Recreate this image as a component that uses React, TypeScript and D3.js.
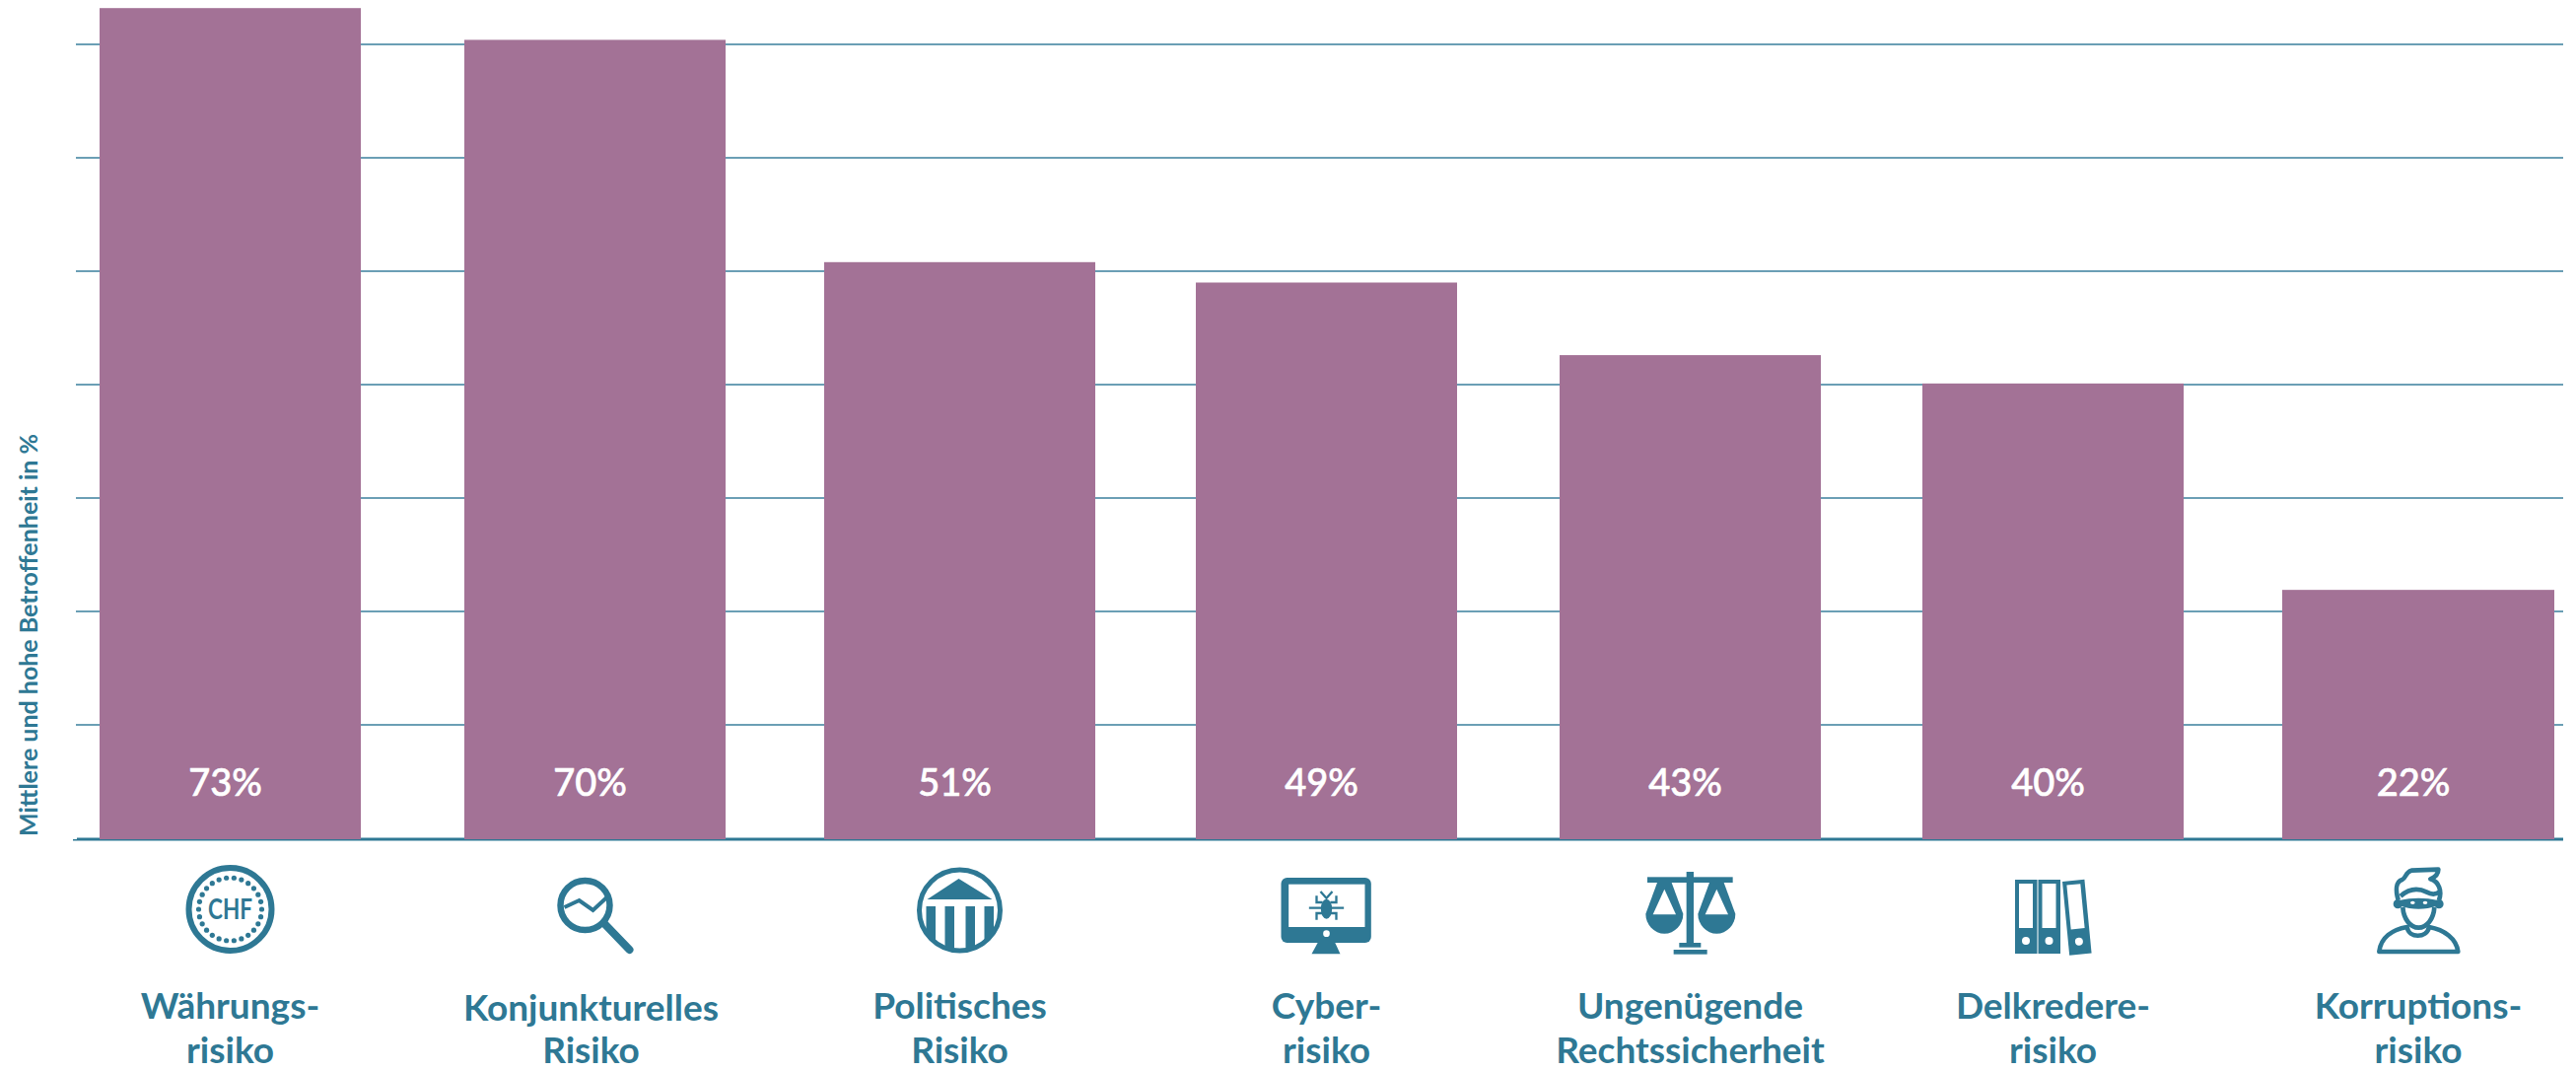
import React from "react";
import * as d3 from "d3";

// Share of firms, as printed in the bars
const printedShares = [73, 70, 51, 49, 43, 40, 22];
// Bar heights
const barShares = [73.2, 70.4, 50.8, 49, 42.6, 40.1, 21.9];
const riskKeys = ["chf", "konjunktur", "politik", "cyber", "recht", "delkredere", "korruption"];
const riskLines = [
  ["Währungs-", "risiko"],
  ["Konjunkturelles", "Risiko"],
  ["Politisches", "Risiko"],
  ["Cyber-", "risiko"],
  ["Ungenügende", "Rechtssicherheit"],
  ["Delkredere-", "risiko"],
  ["Korruptions-", "risiko"],
];
const gridTicks = [0, 10, 20, 30, 40, 50, 60, 70];
const yTitle = "Mittlere und hohe Betroffenheit in %";

const WIDTH = 2613;
const HEIGHT = 1086;
const TEAL = "#2e7894";
const BAR = "#a37296";
const FONT = "Lato, 'Noto Sans', sans-serif";

// the columns in the original are placed by hand, not quite evenly
const columnNudge = [0, 1, -3, 5, 5, 4, 0];
const columnWiden = [0, 0, 10, 0, 0, 0, 11];

const x = d3
  .scaleBand<string>()
  .domain(riskKeys)
  .range([101, 2580])
  .paddingInner(104 / 369)
  .paddingOuter(0);

const y = d3.scaleLinear().domain([0, 70]).range([850, 45]);

const barLeft = (key: string, i: number) => (x(key) as number) + columnNudge[i];
const barWidth = (i: number) => x.bandwidth() + columnWiden[i];

const ChfIcon = () => (
  <g>
    <circle r={42} fill="none" stroke={TEAL} strokeWidth={6} />
    {d3.range(26).map((i) => {
      const a = (i / 26) * 2 * Math.PI;
      return <circle key={i} cx={32 * Math.cos(a)} cy={32 * Math.sin(a)} r={2.6} fill={TEAL} />;
    })}
    <text
      y={10}
      textAnchor="middle"
      fontFamily={FONT}
      fontWeight={700}
      fontSize={29}
      fill={TEAL}
      textLength={45}
      lengthAdjust="spacingAndGlyphs"
    >
      CHF
    </text>
  </g>
);

const LensIcon = () => (
  <g fill="none" stroke={TEAL} strokeLinecap="round">
    <line x1={9} y1={14} x2={35} y2={41} strokeWidth={8} />
    <circle cx={-10} cy={-4} r={25} strokeWidth={6.5} />
    <path d="M-31,-2 L-16,-9 L-2,1 L12,-12" strokeWidth={4} strokeLinecap="butt" />
  </g>
);

const BankIcon = () => (
  <g>
    <clipPath id="bank-clip">
      <circle r={42} cy={1} />
    </clipPath>
    <circle r={41} cy={1} fill="none" stroke={TEAL} strokeWidth={5} />
    <path d="M-1,-31 L33,-10 L-33,-10 Z" fill={TEAL} />
    <g clipPath="url(#bank-clip)" fill={TEAL}>
      {[-34, -15, 6, 25].map((dx) => (
        <rect key={dx} x={dx} y={-3} width={9.5} height={50} />
      ))}
    </g>
  </g>
);

// drawn in the 3x coordinates of the detail crop
const MonitorIcon = () => (
  <g transform="translate(-60,-42) scale(0.3333)" fill={TEAL}>
    <path d="M155,225 L205,225 L222,262 L135,262 Z" />
    <rect x={42} y={30} width={274} height={198} rx={18} />
    <rect x={65} y={50} width={232} height={130} fill="#fff" />
    <circle cx={180} cy={200} r={10} fill="#fff" />
    <ellipse cx={180} cy={125} rx={17} ry={30} />
    <g fill="none" stroke={TEAL} strokeWidth={7}>
      <path d="M162,72 L180,92 L198,72" />
      <path d="M127,122 L233,122" />
      <path d="M150,85 L150,105 L168,105 M210,85 L210,105 L192,105" />
      <path d="M150,158 L150,138 L168,138 M210,158 L210,138 L192,138" />
    </g>
  </g>
);

const ScalePan = ({ cx }: { cx: number }) => (
  <g>
    <path
      d={`M${cx - 22},60 L${cx + 22},60 L${cx + 57},155 A57,60 0 0 1 ${cx - 57},155 Z`}
      fill={TEAL}
    />
    <path d={`M${cx},80 L${cx + 35},157 L${cx - 35},157 Z`} fill="#fff" />
  </g>
);

const ScalesIcon = () => (
  <g transform="translate(-58.5,-47) scale(0.3333)" fill={TEAL}>
    <ScalePan cx={97} />
    <ScalePan cx={256} />
    <rect x={45} y={43} width={260} height={17} />
    <rect x={164} y={27} width={22} height={220} />
    <rect x={142} y={243} width={66} height={14} />
    <rect x={125} y={264} width={102} height={14} />
  </g>
);

const Folder = ({ transform }: { transform?: string }) => (
  <g transform={transform}>
    <rect x={0} y={0} width={22.5} height={75} fill={TEAL} />
    <rect x={4} y={4} width={14} height={45} fill="#fff" />
    <circle cx={11} cy={62} r={4} fill="#fff" />
  </g>
);

const FoldersIcon = () => (
  <g transform="translate(-38.5,-30)">
    <Folder />
    <Folder transform="translate(23.5,0)" />
    <Folder transform="translate(48,2) rotate(-5.5)" />
  </g>
);

const PersonIcon = () => (
  <g transform="translate(-63,-52) scale(0.3333)" fill="none" stroke={TEAL} strokeWidth={14} strokeLinejoin="round">
    <path d="M70,285 C75,242 110,218 155,210 C160,245 215,245 222,210 C268,218 305,245 310,285 Z" />
    <path d="M142,150 C144,185 165,212 190,212 C215,212 236,185 238,150" />
    <path d="M128,128 C120,100 120,72 140,66 C152,62 150,42 168,38 L250,35 C250,50 240,58 226,64 C252,72 262,100 252,128" />
    <path d="M135,116 C165,90 195,94 215,104 C230,112 245,110 255,102" />
    <circle cx={127} cy={140} r={7} fill={TEAL} />
    <circle cx={252} cy={140} r={7} fill={TEAL} />
    <path d="M135,128 C165,120 215,120 245,128 L245,146 C210,158 170,158 135,146 Z" fill={TEAL} stroke="none" />
    <ellipse cx={172} cy={136} rx={7} ry={5} fill="#fff" stroke="none" />
    <ellipse cx={210} cy={136} rx={7} ry={5} fill="#fff" stroke="none" />
  </g>
);

const icons: Record<string, () => React.ReactElement> = {
  chf: ChfIcon,
  konjunktur: LensIcon,
  politik: BankIcon,
  cyber: MonitorIcon,
  recht: ScalesIcon,
  delkredere: FoldersIcon,
  korruption: PersonIcon,
};

const App = () => (
  <svg
    width={WIDTH}
    height={HEIGHT}
    viewBox={`0 0 ${WIDTH} ${HEIGHT}`}
    style={{ position: "absolute", left: 0, top: 0, background: "#fff" }}
  >
    {gridTicks.slice(1).map((t) => (
      <line key={t} x1={77} x2={2600} y1={y(t)} y2={y(t)} stroke="#3a7f9c" strokeWidth={1.4} />
    ))}
    <rect x={78} y={y(0) - 0.5} width={2522} height={3} fill={TEAL} />
    <rect x={74} y={y(0) + 1} width={4} height={1.5} fill={TEAL} />

    {riskKeys.map((key, i) => {
      const left = barLeft(key, i);
      const center = left + barWidth(i) / 2;
      const Icon = icons[key];
      return (
        <g key={key}>
          <rect x={left} y={y(barShares[i])} width={barWidth(i)} height={y(0) + 1 - y(barShares[i])} fill={BAR} />
          <text
            x={center - 5}
            y={807}
            textAnchor="middle"
            fontFamily={FONT}
            fontSize={38}
            fontWeight={500}
            fill="#fff"
            stroke="#fff"
            strokeWidth={0.6}
          >
            {printedShares[i]}%
          </text>
          <g transform={`translate(${center},922)`}>
            <Icon />
          </g>
          {riskLines[i].map((line, j) => (
            <text
              key={line}
              x={center + (key === "konjunktur" ? -4 : 0)}
              y={j === 0 ? (key === "konjunktur" ? 1035 : 1033) : 1078}
              textAnchor="middle"
              fontFamily={FONT}
              fontSize={37}
              fontWeight={700}
              fill={TEAL}
            >
              {line}
            </text>
          ))}
        </g>
      );
    })}

    <text
      transform="translate(37.5,848) rotate(-90)"
      fontFamily={FONT}
      fontSize={25}
      fontWeight={700}
      fill={TEAL}
    >
      {yTitle}
    </text>
  </svg>
);

export default App;
